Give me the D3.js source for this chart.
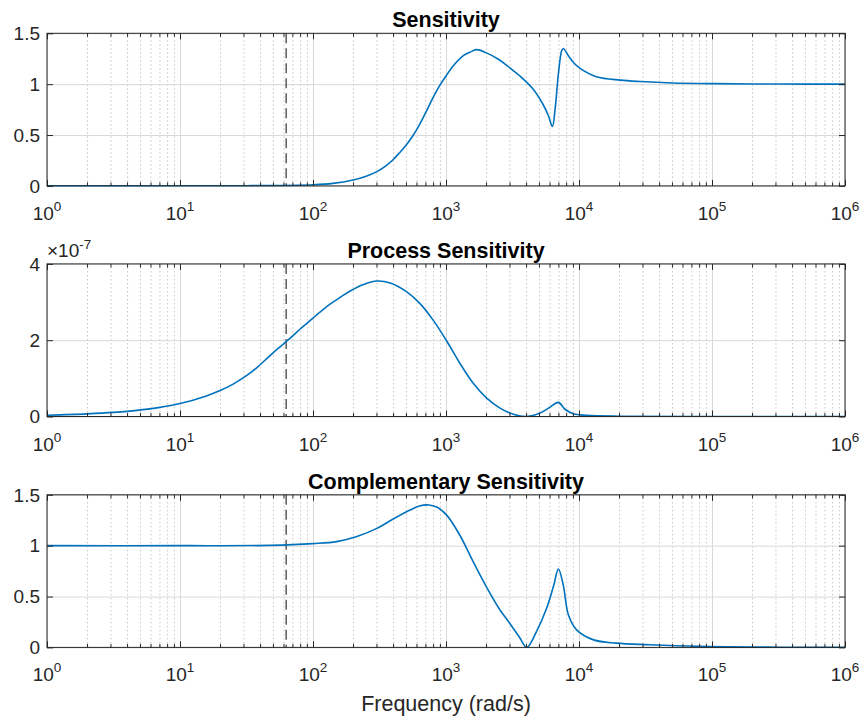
<!DOCTYPE html>
<html><head><meta charset="utf-8">
<script src="https://cdn.jsdelivr.net/npm/d3@7"></script>
<style>body{margin:0;background:#fff}</style>
</head><body>
<svg id="c" width="861" height="720"></svg>
<script>
// ---------- data ----------
const xTickValues = [1, 10, 100, 1000, 10000, 100000, 1000000];
const xTickExponents = ["0", "1", "2", "3", "4", "5", "6"];
const markerFreq = 62.83;

const sensFreq = [1, 10, 31.6, 100, 141, 200, 251, 302, 355, 398, 447, 501, 562, 631, 716, 794, 891, 1000, 1135, 1349, 1549, 1698, 1995, 2512, 3020, 3597, 4529, 5370, 5888, 6310, 6607, 6998, 7413, 7621, 8318, 9120, 10186, 13490, 20417, 28840, 50119, 100000, 316228, 1000000];
const sensMag  = [0.0005, 0.001, 0.002, 0.012, 0.025, 0.058, 0.095, 0.14, 0.20, 0.255, 0.325, 0.40, 0.49, 0.60, 0.74, 0.86, 0.98, 1.08, 1.18, 1.28, 1.32, 1.34, 1.31, 1.24, 1.16, 1.08, 0.95, 0.80, 0.69, 0.585, 0.75, 1.10, 1.33, 1.35, 1.28, 1.21, 1.155, 1.074, 1.04, 1.026, 1.012, 1.005, 1.001, 1.0];
const sensYTicks = [0, 0.5, 1, 1.5];
const sensYLabels = ["0", "0.5", "1", "1.5"];

const procFreq = [1, 2, 3.16, 5.94, 10, 15.8, 20, 25.1, 31.6, 35.5, 39.8, 44.7, 50.1, 56.2, 62.7, 70.8, 79.4, 89.1, 100, 117, 135, 158, 190.5, 240, 302, 380, 501, 638, 803, 1012, 1274, 1603, 2023, 2547, 3206, 4046, 5093, 6026, 6998, 7852, 9057, 11429, 19953, 100000, 1000000];
const procMag  = [0.034, 0.068, 0.107, 0.20, 0.34, 0.54, 0.68, 0.85, 1.07, 1.20, 1.35, 1.51, 1.67, 1.82, 1.96, 2.12, 2.28, 2.43, 2.58, 2.78, 2.95, 3.11, 3.29, 3.46, 3.55, 3.50, 3.28, 2.96, 2.52, 1.98, 1.39, 0.87, 0.48, 0.22, 0.06, 0.0, 0.09, 0.24, 0.37, 0.19, 0.07, 0.03, 0.008, 0.001, 0.0]; // x 1e-7
const procYTicks = [0, 2, 4];
const procYLabels = ["0", "2", "4"];

const compFreq = [1, 10, 47.5, 100, 151, 214, 302, 398, 537, 631, 741, 851, 1012, 1274, 1603, 2042, 2512, 3020, 3548, 4046, 4786, 5689, 6457, 6998, 7621, 8318, 9550, 12882, 19055, 33884, 79433, 316228, 1000000];
const compMag  = [1.0, 1.0, 1.003, 1.02, 1.04, 1.09, 1.17, 1.26, 1.35, 1.39, 1.40, 1.38, 1.30, 1.10, 0.84, 0.58, 0.38, 0.235, 0.105, 0.0, 0.155, 0.38, 0.61, 0.77, 0.61, 0.32, 0.175, 0.074, 0.042, 0.026, 0.01, 0.002, 0.0];
const compYTicks = [0, 0.5, 1, 1.5];
const compYLabels = ["0", "0.5", "1", "1.5"];

const titles = ["Sensitivity", "Process Sensitivity", "Complementary Sensitivity"];

// ---------- layout ----------
const svg = d3.select("#c");
const left = 47, right = 845, ph = 152.6;
const tops = [33.3, 263.9, 494.8];
const axisColor = "#262626";
const font = "'Liberation Sans', Arial, Helvetica, sans-serif";

const x = d3.scaleLog().domain([1, 1e6]).range([left, right]);
const minorTicks = [];
for (let d = 0; d < 6; d++) for (let k = 2; k <= 9; k++) minorTicks.push(k * Math.pow(10, d));

const panels = [
  {freq: sensFreq, mag: sensMag, yTicks: sensYTicks, yLabels: sensYLabels, yDomain: [0, 1.5], title: titles[0]},
  {freq: procFreq, mag: procMag, yTicks: procYTicks, yLabels: procYLabels, yDomain: [0, 4], title: titles[1], exponent: "-7"},
  {freq: compFreq, mag: compMag, yTicks: compYTicks, yLabels: compYLabels, yDomain: [0, 1.5], title: titles[2]}
];

function styleGrid(sel, color, dash) {
  sel.select(".domain").remove();
  sel.selectAll("line").attr("stroke", color).attr("stroke-width", 1).attr("stroke-dasharray", dash);
}
function styleTicks(sel) {
  sel.select(".domain").remove();
  sel.selectAll("line").attr("stroke", axisColor).attr("stroke-width", 1);
}

panels.forEach((p, i) => {
  const top = tops[i], bottom = top + ph;
  const y = d3.scaleLinear().domain(p.yDomain).range([bottom, top]);
  const g = svg.append("g");

  g.append("rect").attr("x", left).attr("y", top).attr("width", right - left).attr("height", ph).attr("fill", "#fff");

  // minor vertical grid
  g.append("g").attr("transform", `translate(0,${bottom})`)
    .call(d3.axisBottom(x).tickValues(minorTicks).tickSize(-ph).tickFormat(""))
    .call(s => styleGrid(s, "#c6c6c6", "1.5,2.5"));
  // major vertical grid
  g.append("g").attr("transform", `translate(0,${bottom})`)
    .call(d3.axisBottom(x).tickValues(xTickValues).tickSize(-ph).tickFormat(""))
    .call(s => styleGrid(s, "#d8d8d8", null));
  // horizontal grid
  g.append("g").attr("transform", `translate(${left},0)`)
    .call(d3.axisLeft(y).tickValues(p.yTicks).tickSize(-(right - left)).tickFormat(""))
    .call(s => styleGrid(s, "#d8d8d8", null));

  // marker dashed line
  g.append("line")
    .attr("x1", x(markerFreq)).attr("x2", x(markerFreq))
    .attr("y1", top).attr("y2", bottom)
    .attr("stroke", "#333").attr("stroke-width", 1.2)
    .attr("stroke-dasharray", "10,5");

  // curve
  const clipId = "clip" + i;
  svg.append("clipPath").attr("id", clipId).append("rect")
    .attr("x", left).attr("y", top - 1).attr("width", right - left).attr("height", ph + 1.5);
  const line = d3.line().x(d => x(d[0])).y(d => y(d[1])).curve(d3.curveCatmullRom.alpha(0.5));
  g.append("path")
    .datum(p.freq.map((f, j) => [f, p.mag[j]]))
    .attr("d", line)
    .attr("fill", "none").attr("stroke", "#0072BD").attr("stroke-width", 1.6)
    .attr("clip-path", `url(#${clipId})`);

  // ticks (inward)
  g.append("g").attr("transform", `translate(0,${bottom})`)
    .call(d3.axisBottom(x).tickValues(minorTicks).tickSize(-3.5).tickFormat("")).call(styleTicks);
  g.append("g").attr("transform", `translate(0,${bottom})`)
    .call(d3.axisBottom(x).tickValues(xTickValues).tickSize(-6).tickFormat("")).call(styleTicks);
  g.append("g").attr("transform", `translate(0,${top})`)
    .call(d3.axisTop(x).tickValues(minorTicks).tickSize(-3.5).tickFormat("")).call(styleTicks);
  g.append("g").attr("transform", `translate(0,${top})`)
    .call(d3.axisTop(x).tickValues(xTickValues).tickSize(-6).tickFormat("")).call(styleTicks);
  g.append("g").attr("transform", `translate(${left},0)`)
    .call(d3.axisLeft(y).tickValues(p.yTicks).tickSize(-6).tickFormat("")).call(styleTicks);
  g.append("g").attr("transform", `translate(${right},0)`)
    .call(d3.axisRight(y).tickValues(p.yTicks).tickSize(-6).tickFormat("")).call(styleTicks);

  // frame
  g.append("rect").attr("x", left).attr("y", top).attr("width", right - left).attr("height", ph)
    .attr("fill", "none").attr("stroke", axisColor).attr("stroke-width", 1);

  // x tick labels with superscripts
  xTickValues.forEach((v, j) => {
    const t = g.append("text").attr("x", x(v)).attr("y", bottom + 34)
      .attr("text-anchor", "middle").attr("font-family", font).attr("font-size", 19).attr("fill", axisColor);
    t.append("tspan").text("10");
    t.append("tspan").attr("dy", -9).attr("font-size", 13.5).text(xTickExponents[j]);
  });

  // y tick labels
  p.yTicks.forEach((v, j) => {
    g.append("text").attr("x", 40).attr("y", y(v) + 6.8)
      .attr("text-anchor", "end").attr("font-family", font).attr("font-size", 19).attr("fill", axisColor)
      .text(p.yLabels[j]);
  });

  // title
  g.append("text").attr("x", (left + right) / 2).attr("y", top - 6)
    .attr("text-anchor", "middle").attr("font-family", font).attr("font-size", 21.5)
    .attr("font-weight", "bold").attr("fill", "#000").text(p.title);

  // exponent label
  if (p.exponent) {
    const t = g.append("text").attr("x", 47).attr("y", top - 7)
      .attr("font-family", font).attr("font-size", 19).attr("fill", axisColor);
    t.append("tspan").text("\u00d710");
    t.append("tspan").attr("dy", -8).attr("font-size", 13.5).text(p.exponent);
  }
});

// x label
svg.append("text").attr("x", (left + right) / 2).attr("y", 711)
  .attr("text-anchor", "middle").attr("font-family", font).attr("font-size", 21.5)
  .attr("fill", axisColor).text("Frequency (rad/s)");
</script>
</body></html>
